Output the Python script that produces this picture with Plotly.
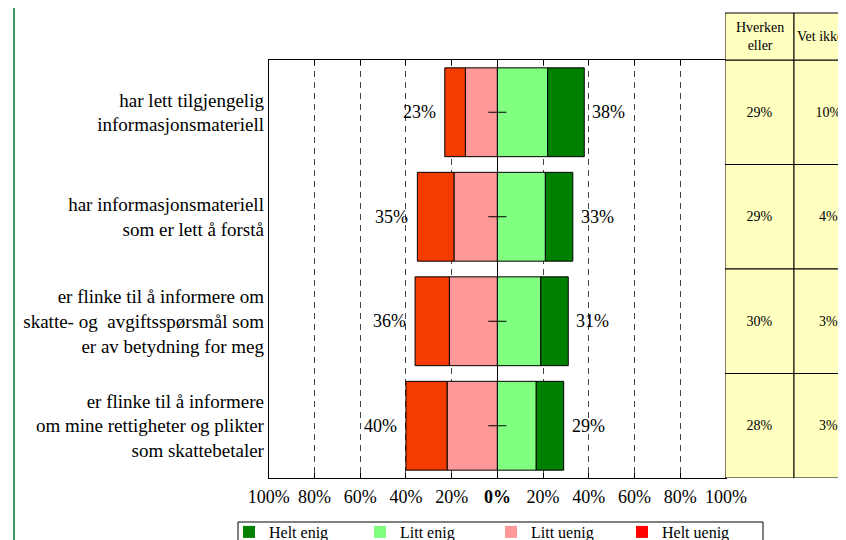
import plotly.graph_objects as go

FONT = "Liberation Serif"

statements = [
    "har lett tilgjengelig<br>informasjonsmateriell",
    "har informasjonsmateriell<br>som er lett å forstå",
    "er flinke til å informere om<br>skatte- og  avgiftsspørsmål som<br>er av betydning for meg",
    "er flinke til å informere<br>om mine rettigheter og plikter<br>som skattebetaler",
]
helt_uenig = [9, 16, 15, 18]
litt_uenig = [14, 19, 21, 22]
litt_enig = [22, 21, 19, 17]
helt_enig = [16, 12, 12, 12]
uenig_total = [23, 35, 36, 40]
enig_total = [38, 33, 31, 29]
hverken = [29, 29, 30, 28]
vet_ikke = [10, 4, 3, 3]

tick_vals = [-100, -80, -60, -40, -20, 0, 20, 40, 60, 80, 100]
tick_text = ["100%", "80%", "60%", "40%", "20%", "<b>0%</b>", "20%", "40%", "60%", "80%", "100%"]
table_headers = ["Hverken<br>eller", "Vet ikke"]

# figure coords (the page adds an 8px body margin)
W, H = 846, 540
plot_left, plot_right = 260.75, 718
plot_top, plot_bot = 52, 470
table_left, col_w, head_top = 717, 69, 5

bar_line = dict(color="black", width=1)
txt = dict(family=FONT, color="black")

fig = go.Figure()
# negative side stacks outward from zero
fig.add_bar(y=statements, x=[-v for v in litt_uenig], orientation="h", width=0.85,
            marker=dict(color="#FF9999", line=bar_line), showlegend=False, hoverinfo="skip")
fig.add_bar(y=statements, x=[-v for v in helt_uenig], orientation="h", width=0.85,
            marker=dict(color="#F43C00", line=bar_line), showlegend=False, hoverinfo="skip")
fig.add_bar(y=statements, x=litt_enig, orientation="h", width=0.85,
            marker=dict(color="#80FF80", line=bar_line), showlegend=False, hoverinfo="skip")
fig.add_bar(y=statements, x=helt_enig, orientation="h", width=0.85,
            marker=dict(color="#008000", line=bar_line), showlegend=False, hoverinfo="skip")

# zero-line ticks at each row
fig.add_scatter(y=statements, x=[0] * len(statements), mode="markers",
                marker=dict(symbol="line-ew", size=13, line=dict(color="black", width=1)),
                showlegend=False, hoverinfo="skip")

# legend-only entries
for name, color in [("Helt enig", "#008000"), ("Litt enig", "#80FF80"),
                    ("Litt uenig", "#FF9999"), ("Helt uenig", "#FF0000")]:
    fig.add_bar(x=[None], y=[None], name=name, marker=dict(color=color, line=dict(width=0)))

# side table (Hverken / Vet ikke) on its own x axis sharing the rows
for col, vals in enumerate([hverken, vet_ikke]):
    fig.add_bar(y=statements, x=[1] * len(vals), base=[col] * len(vals), orientation="h",
                width=1, xaxis="x2", marker=dict(color="#FFFFC0", line=bar_line),
                text=[f"{v}%" for v in vals], textposition="inside", insidetextanchor="middle",
                textangle=0, textfont=dict(size=14, **txt),
                showlegend=False, hoverinfo="skip")

annotations = []
for s, u, e in zip(statements, uenig_total, enig_total):
    annotations.append(dict(x=-u, y=s, text=f"{u}%", xanchor="right", xshift=-7,
                            showarrow=False, font=dict(size=18, **txt)))
    annotations.append(dict(x=e, y=s, text=f"{e}%", xanchor="left", xshift=6,
                            showarrow=False, font=dict(size=18, **txt)))

shapes = []
for col, head in enumerate(table_headers):
    shapes.append(dict(type="rect", xref="x2", yref="paper", x0=col, x1=col + 1,
                       y0=1 - plot_top / H, y1=1 - head_top / H,
                       fillcolor="#FFFFC0", line=dict(color="black", width=1)))
    # last header runs off the page edge, as in the source
    last = col == len(table_headers) - 1
    annotations.append(dict(x=col + (0.02 if last else 0.5), y=1 - (plot_top + head_top) / 2 / H,
                            xref="x2", yref="paper", xanchor="left" if last else "center",
                            yanchor="middle", text=head, showarrow=False,
                            font=dict(size=14, **txt)))
# left green rule and legend frame
shapes.append(dict(type="line", xref="paper", yref="paper", x0=6 / W, x1=6 / W, y0=0, y1=1,
                   line=dict(color="#3A9A5E", width=2)))
shapes.append(dict(type="rect", xref="paper", yref="paper", x0=230 / W, x1=755 / W,
                   y0=1 - 514 / H, y1=-0.1, line=dict(color="black", width=1)))

fig.update_layout(
    width=W, height=H,
    margin=dict(l=0, r=0, t=0, b=0, autoexpand=False),
    barmode="relative",
    plot_bgcolor="white", paper_bgcolor="white",
    font=txt,
    xaxis=dict(domain=[plot_left / W, plot_right / W], range=[-100, 100],
               tickvals=tick_vals, ticktext=tick_text,
               showgrid=True, griddash="6px,5px", gridcolor="#444", gridwidth=1,
               zeroline=True, zerolinecolor="black", zerolinewidth=1,
               showline=True, linecolor="black", mirror="ticks", ticks="inside", ticklen=5,
               tickcolor="black", tickfont=dict(size=18), ticklabelstandoff=2,
               automargin=False, fixedrange=True),
    xaxis2=dict(domain=[table_left / W, 1], range=[0, (W - table_left) / col_w], anchor="y",
                visible=False, automargin=False, fixedrange=True),
    yaxis=dict(domain=[1 - plot_bot / H, 1 - plot_top / H], type="category",
               categoryorder="array", categoryarray=statements, range=[len(statements) - 0.5, -0.5],
               showgrid=False, zeroline=False, showline=True, linecolor="black", mirror=True,
               ticks="", tickfont=dict(size=19), ticklabelstandoff=0,
               automargin=False, fixedrange=True),
    legend=dict(orientation="h", x=221 / W, y=1 - 507 / H, xanchor="left", yanchor="top",
                bgcolor="rgba(0,0,0,0)", borderwidth=0, font=dict(size=16),
                entrywidth=86, itemwidth=30, traceorder="normal"),
    annotations=annotations,
    shapes=shapes,
)

fig.write_html("out.html")
